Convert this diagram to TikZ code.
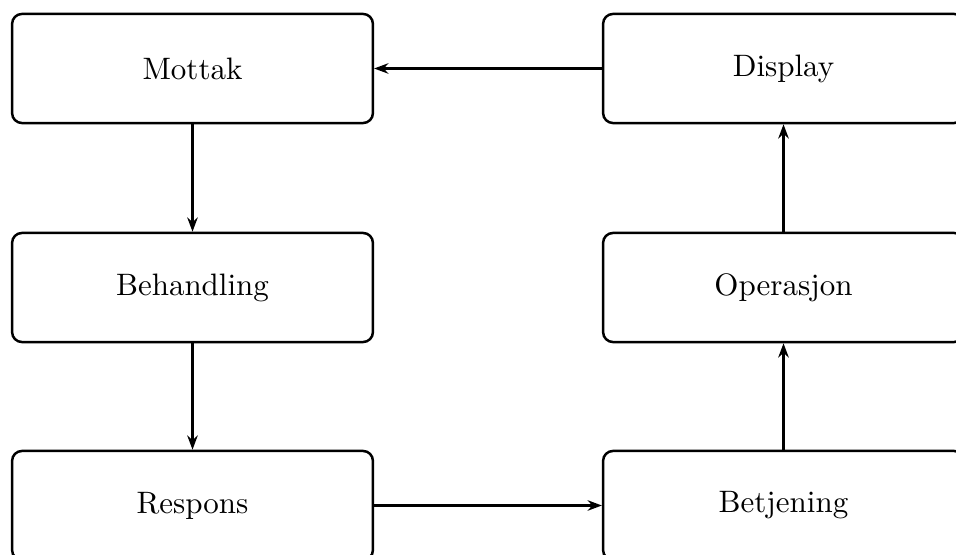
\documentclass[tikz,border=0pt]{standalone}
\usetikzlibrary{arrows.meta}
\begin{document}
\begin{tikzpicture}[x=0.3226pt,y=-0.3226pt,
  box/.style={draw, line width=0.8pt, rounded corners=3.2pt, minimum width=116.4pt, minimum height=35.2pt, inner sep=0pt, font=\normalsize},
  conn/.style={line width=0.7pt, -{Stealth[length=4.6pt,width=3.4pt,inset=1.5pt]}}]
\useasboundingbox (0,0) rectangle (956,555);
\node[box] (mottak) at (192.5,68.5) {Mottak};
\node[box] (behandling) at (192.5,287.5) {Behandling};
\node[box] (respons) at (192.5,505.5) {Respons};
\node[box] (display) at (783.5,68.5) {Display};
\node[box] (operasjon) at (783.5,287.5) {Operasjon};
\node[box] (betjening) at (783.5,505.5) {Betjening};
\draw[conn] (display) -- (mottak);
\draw[conn] (mottak) -- (behandling);
\draw[conn] (behandling) -- (respons);
\draw[conn] (respons) -- (betjening);
\draw[conn] (betjening) -- (operasjon);
\draw[conn] (operasjon) -- (display);
\end{tikzpicture}
\end{document}
